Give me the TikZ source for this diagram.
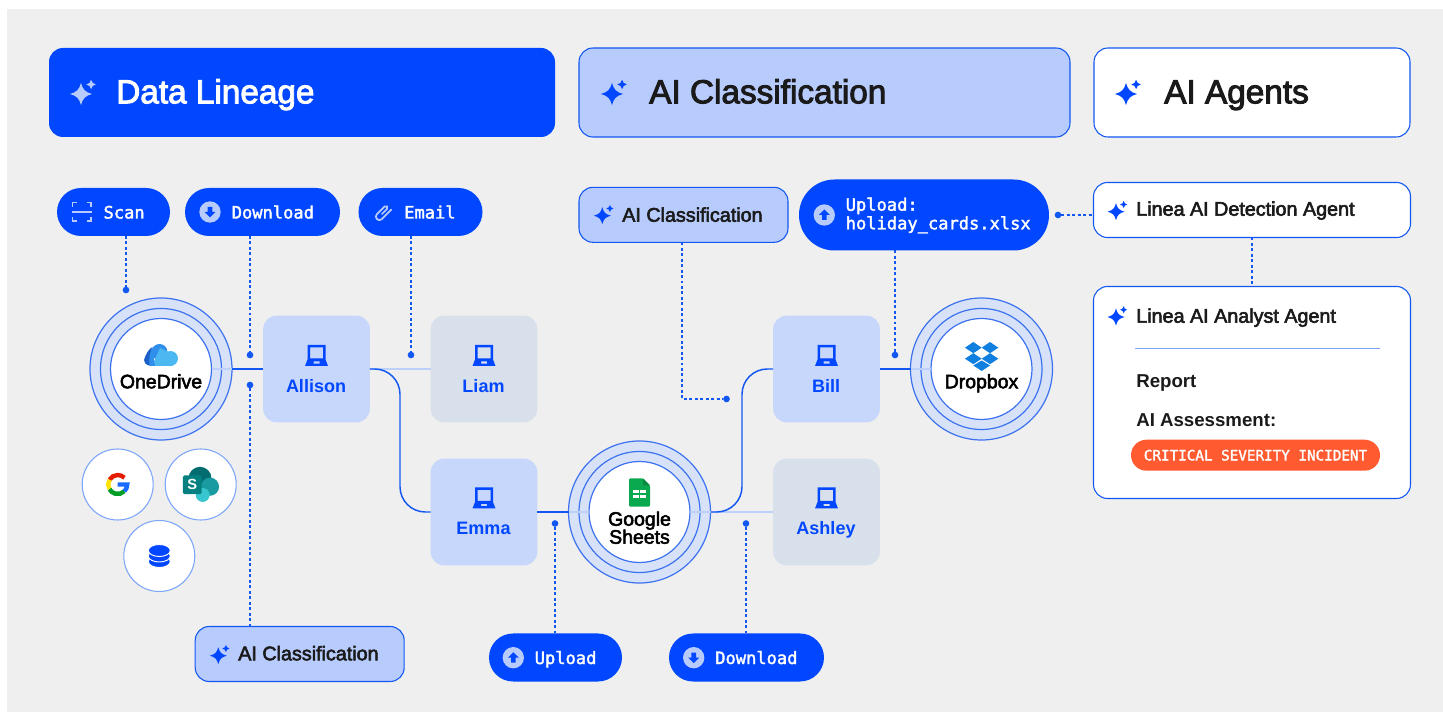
\documentclass[tikz,border=0pt]{standalone}
\usepackage{fontspec}
\setmainfont{Liberation Sans}
\setmonofont[FakeBold=2]{DejaVu Sans Mono}
\newfontfamily\medfont[FakeBold=2.8]{Liberation Sans}
\definecolor{pagegray}{HTML}{EFEFEF}
\definecolor{pillblue}{HTML}{0047FF}
\definecolor{softblue}{HTML}{B8CBFD}
\definecolor{boxblue}{HTML}{C7D7FC}
\definecolor{boxgray}{HTML}{D8E0EC}
\definecolor{ringfill}{HTML}{D7E2F8}
\definecolor{ringline}{HTML}{3C72F0}
\definecolor{flowblue}{HTML}{1257F2}
\definecolor{flowlight}{HTML}{BDD0FB}
\definecolor{edgeblue}{HTML}{7DA6FB}
\definecolor{inkdark}{HTML}{1A1A1A}
\definecolor{alertred}{HTML}{FF5A30}
\definecolor{teala}{HTML}{036C70}
\definecolor{tealb}{HTML}{1A9BA1}
\definecolor{tealc}{HTML}{37C6D0}
\definecolor{tealbox}{HTML}{058080}
\definecolor{sheetgreen}{HTML}{0AA84F}
\definecolor{sheetfold}{HTML}{078A3F}
\definecolor{dropblue}{HTML}{0F7FE0}
\definecolor{clouddark}{HTML}{1C5FC8}
\definecolor{cloudmid}{HTML}{2F8FEA}
\definecolor{cloudlight}{HTML}{4CB8F2}
\newcommand{\starpath}{(0,-10) .. controls (1.8,-3.6) and (3.6,-1.8) .. (10,0) .. controls (3.6,1.8) and (1.8,3.6) .. (0,10) .. controls (-1.8,3.6) and (-3.6,1.8) .. (-10,0) .. controls (-3.6,-1.8) and (-1.8,-3.6) .. (0,-10) -- cycle}
\tikzset{
	panel/.style n args={3}{
		rectangle, rounded corners=10.5pt, inner sep=0pt, outer sep=0pt,
		minimum width=#1*0.75pt, minimum height=#2*0.75pt, fill=#3},
	pill/.style 2 args={
		rectangle, rounded corners=#2*0.375pt, inner sep=0pt, outer sep=0pt,
		minimum width=#1*0.75pt, minimum height=#2*0.75pt, fill=pillblue},
	tile/.style={
		rectangle, rounded corners=10pt, inner sep=0pt, outer sep=0pt,
		minimum width=80pt, minimum height=80pt, fill=#1},
	hubring/.style={
		circle, inner sep=0pt, outer sep=0pt, minimum size=#1*0.75pt,
		draw=ringline, line width=0.9pt, fill=ringfill},
	hubcore/.style={
		circle, inner sep=0pt, outer sep=0pt, minimum size=101*0.75pt,
		draw=ringline, line width=0.9pt, fill=white},
	appdisc/.style={
		circle, inner sep=0pt, outer sep=0pt, minimum size=71*0.75pt,
		draw=edgeblue, line width=0.8pt, fill=white},
	blip/.style={
		circle, inner sep=0pt, outer sep=0pt, minimum size=5pt, fill=flowblue},
	flow/.style={draw=flowblue, line width=1.1pt, rounded corners=19pt},
	flowfaint/.style={draw=flowlight, line width=1.1pt},
	probe/.style={draw=flowblue, line width=1.2pt, dash pattern=on 2.2pt off 1.9pt},
	headtext/.style={anchor=base west, inner sep=0pt, font=\medfont\fontsize{25}{30}\selectfont},
	chiptext/.style={anchor=base west, inner sep=0pt, text=inkdark, font=\medfont\fontsize{14.8}{18}\selectfont},
	monotext/.style={anchor=base west, inner sep=0pt, text=white, font=\ttfamily\fontsize{12.8}{14}\selectfont},
	tiletext/.style={anchor=base, inner sep=0pt, text=pillblue, font=\bfseries\fontsize{13.5}{16}\selectfont},
	hubtext/.style={anchor=base, inner sep=0pt, text=black, font=\medfont\fontsize{14.6}{16}\selectfont},
	reporttext/.style={anchor=base west, inner sep=0pt, text=inkdark, font=\bfseries\fontsize{14}{16}\selectfont},
	pics/sparkle/.style={code={
		\fill[#1] \starpath;
		\fill[#1, shift={(9,8.5)}, scale=0.42] \starpath;
	}},
	pics/laptop/.style={code={
		\fill[pillblue, even odd rule] (-9,10.5) -- (9,10.5) -- (9,-4) -- (11.5,-10.5) -- (-11.5,-10.5) -- (-9,-4) -- cycle (-6.5,8) rectangle (6.5,-3) (-3,-6) rectangle (3,-8.2);
	}},
	pics/arrowdisc/.style={code={
		\fill[softblue] (0,0) circle (8pt);
		\fill[pillblue, yscale=#1] (0,5.5) -- (5.5,0) -- (2.3,0) -- (2.3,-5) -- (-2.3,-5) -- (-2.3,0) -- (-5.5,0) -- cycle;
	}}
}
\begin{document}
\begin{tikzpicture}[x=0.75pt,y=0.75pt,yscale=-1,xscale=1]
\useasboundingbox (0,0) rectangle (1443,712);
\fill[pagegray] (7,9) rectangle (1443,712);

%headers
\node[panel={506}{89}{pillblue}] (lineagehead) at (302,92.5) {};
\node[panel={491}{89}{softblue}, draw=flowblue, line width=0.8pt] (classhead) at (824.5,92.5) {};
\node[panel={316}{89}{white}, draw=flowblue, line width=0.8pt] (agenthead) at (1252,92.5) {};
\pic[scale=1.12] at (81,94) {sparkle=softblue};
\pic[scale=1.12] at (612,94) {sparkle=pillblue};
\pic[scale=1.12] at (1126,94) {sparkle=pillblue};
\node[headtext, text=white] (lineagetext) at (116,103.3) {Data Lineage};
\node[headtext, text=inkdark] (classtext) at (649,103.3) {AI Classification};
\node[headtext, text=inkdark] (agenttext) at (1164,103.3) {AI Agents};

%hubs
\node[hubring=142] (onedriveouter) at (161,369) {};
\node[hubring=121] (onedrivemid) at (161,369) {};
\node[hubring=142] (sheetsouter) at (639.5,512) {};
\node[hubring=121] (sheetsmid) at (639.5,512) {};
\node[hubring=142] (dropboxouter) at (981.5,369) {};
\node[hubring=121] (dropboxmid) at (981.5,369) {};

%tiles
\node[tile=boxblue] (allison) at (316.5,369) {};
\node[tile=boxgray] (liam) at (484,369) {};
\node[tile=boxblue] (emma) at (484,512) {};
\node[tile=boxblue] (bill) at (826.5,369) {};
\node[tile=boxgray] (ashley) at (826.5,512) {};

\coordinate (allisonbend) at (400,440);
\coordinate (sheetsbend) at (742,440);

%connectors, faint part runs inside the rings
\draw[flowfaint] (allison.east) -- (liam.west);
\draw[flowfaint] (onedrivemid.east) -- (onedriveouter.east);
\draw[flow] (onedriveouter.east) -- (allison.west);
\draw[flow] (allison.east) -| (allisonbend) |- (emma.west);
\draw[flow] (emma.east) -- (sheetsouter.west);
\draw[flowfaint] (sheetsouter.west) -- (sheetsmid.west);
\draw[flowfaint] (sheetsmid.east) -- (sheetsouter.east);
\draw[flowfaint] (sheetsouter.east) -- (ashley.west);
\draw[flow] (sheetsouter.east) -| (sheetsbend) |- (bill.west);
\draw[flow] (bill.east) -- (dropboxouter.west);
\draw[flowfaint] (dropboxouter.west) -- (dropboxmid.west);

\node[hubcore] (onedrive) at (161,369) {};
\node[hubcore] (sheets) at (639.5,512) {};
\node[hubcore] (dropbox) at (981.5,369) {};
\draw[flowfaint] (onedrive.east) -- (onedrivemid.east);
\draw[flowfaint] (sheets.west) -- (sheetsmid.west);
\draw[flowfaint] (sheets.east) -- (sheetsmid.east);
\draw[flowfaint] (dropbox.west) -- (dropboxmid.west);

\pic at (316.5,355.5) {laptop};
\pic at (484,355.5) {laptop};
\pic at (484,498) {laptop};
\pic at (826.5,355.5) {laptop};
\pic at (826.5,498) {laptop};
\node[tiletext] (allisontext) at (316,392.3) {Allison};
\node[tiletext] (liamtext) at (483.5,392.3) {Liam};
\node[tiletext] (emmatext) at (483.5,534.3) {Emma};
\node[tiletext] (billtext) at (826,392.3) {Bill};
\node[tiletext] (ashleytext) at (826,534.3) {Ashley};

\node[hubtext] (onedrivetext) at (161,388.3) {OneDrive};
\node[hubtext] (googletext) at (639.5,525.7) {Google};
\node[hubtext] (sheetstext) at (639.5,543.7) {Sheets};
\node[hubtext] (dropboxtext) at (981.5,388.3) {Dropbox};

%onedrive cloud
\fill[cloudmid] (159.5,352) circle (6pt);
\fill[cloudlight] (170.5,358.5) circle (5.6pt);
\fill[cloudlight] (152,366) -- (172,366) -- (172,354) -- (160,348) -- cycle;
\fill[cloudmid] (146,360) .. controls (149,352) and (153,346) .. (159,344) .. controls (154,352) and (153,358) .. (155,366) -- (150,366) .. controls (147,365) and (145.5,363) .. (146,360) -- cycle;
\fill[clouddark] (144,360) .. controls (146,353) and (149,349) .. (152.5,347) .. controls (150,352) and (148.5,358) .. (149.5,365.5) .. controls (146,365) and (144,363) .. (144,360) -- cycle;

%sheets icon
\fill[sheetgreen, rounded corners=1pt] (629,478.3) -- (643,478.3) -- (650,485.3) -- (650,506.7) -- (629,506.7) -- cycle;
\fill[sheetfold] (643,478.3) -- (650,485.3) -- (643,485.3) -- cycle;
\fill[white] (633.3,490) rectangle (646,498);
\draw[sheetgreen, line width=0.8pt] (639.6,490) -- (639.6,498) (633.3,494) -- (646,494);

%dropbox icon
\fill[dropblue] (973.3,342) -- (981.7,347.7) -- (973.3,353.2) -- (965,347.7) -- cycle;
\fill[dropblue] (990,342) -- (998.3,347.7) -- (990,353.2) -- (981.7,347.7) -- cycle;
\fill[dropblue] (973.3,353.2) -- (981.7,358.7) -- (973.3,364.2) -- (965,358.7) -- cycle;
\fill[dropblue] (990,353.2) -- (998.3,358.7) -- (990,364.2) -- (981.7,358.7) -- cycle;
\fill[dropblue] (973.3,365.5) -- (981.7,360.5) -- (990,365.5) -- (981.7,371) -- cycle;

%app discs
\node[appdisc] (google) at (117.7,484.5) {};
\node[appdisc] (sharepoint) at (200.7,484.5) {};
\node[appdisc] (database) at (159.3,556) {};
\begin{scope}[shift={(117.7,484.5)}, line width=3.3pt]
\draw[red!75!orange!90!black] (210:9.5) arc[start angle=210, end angle=315, radius=9.5];
\draw[yellow!85!orange] (150:9.5) arc[start angle=150, end angle=210, radius=9.5];
\draw[green!55!black!85!cyan] (45:9.5) arc[start angle=45, end angle=150, radius=9.5];
\draw[blue!65!cyan!90!white] (0,0) -- (9.5,0) arc[start angle=0, end angle=45, radius=9.5];
\end{scope}
\fill[teala] (200,478.3) circle (8.6pt);
\fill[tealb] (210,486.7) circle (6.8pt);
\fill[tealc] (202.7,495) circle (5.2pt);
\node[rectangle, rounded corners=1pt, inner sep=0pt, minimum size=14pt, fill=tealbox, text=white, font=\bfseries\fontsize{11}{12}\selectfont] (sharepointbox) at (192.3,484.8) {S};
\filldraw[fill=pillblue, draw=white, line width=0.7pt] (159.3,561.5) ellipse [x radius=11, y radius=6];
\filldraw[fill=pillblue, draw=white, line width=0.7pt] (159.3,556) ellipse [x radius=11, y radius=6];
\filldraw[fill=pillblue, draw=white, line width=0.7pt] (159.3,550.5) ellipse [x radius=11, y radius=6];

%action pills
\node[pill={113}{48}] (scan) at (113.5,212) {};
\node[pill={155}{48}] (download) at (262.5,212) {};
\node[pill={124}{48}] (email) at (420.5,212) {};
\node[pill={133}{48}] (upload) at (555.5,657.5) {};
\node[pill={155}{48}] (downloadright) at (746.5,657.5) {};
\node[pill={250}{71}] (uploadcards) at (924,215) {};
\draw[softblue, line width=1.3pt] (72.5,207) -- (72.5,202.5) -- (77,202.5) (86.5,202.5) -- (91,202.5) -- (91,207) (72.5,217) -- (72.5,221) -- (77,221) (86.5,221) -- (91,221) -- (91,217);
\draw[softblue, line width=1.8pt] (72,212) -- (91.5,212);
\pic at (210,212) {arrowdisc=-1};
\draw[softblue, line width=1.3pt, line cap=round, rotate around={-45:(383.5,212.5)}] (381.5,212.5) -- (388.5,212.5) to[out=0,in=0,looseness=1.6] (388.5,209) -- (377.5,209) to[out=180,in=180,looseness=1.6] (377.5,216) -- (391,216);
\pic at (513.3,657.7) {arrowdisc=1};
\pic at (693.7,657.7) {arrowdisc=-1};
\pic at (824.3,215) {arrowdisc=1};
\node[monotext] (scantext) at (103.3,218.5) {Scan};
\node[monotext] (downloadtext) at (231.5,218.5) {Download};
\node[monotext] (emailtext) at (404,218.5) {Email};
\node[monotext] (uploadtext) at (534.5,664) {Upload};
\node[monotext] (downloadrighttext) at (715,664) {Download};
\node[monotext] (uploadcardstext) at (845.5,210.7) {Upload:};
\node[monotext] (cardsnametext) at (845.5,229.3) {holiday\_cards.xlsx};

%classification and agent chips
\node[panel={209}{55}{softblue}, draw=flowblue, line width=0.8pt] (classtop) at (683.5,214.8) {};
\node[panel={209}{55}{softblue}, draw=flowblue, line width=0.8pt] (classbottom) at (299.7,654) {};
\node[panel={317}{55}{white}, draw=flowblue, line width=0.8pt] (detection) at (1252,210) {};
\node[panel={317}{212}{white}, draw=flowblue, line width=0.8pt] (analyst) at (1252,392.5) {};
\pic[scale=0.85] at (602.3,215.7) {sparkle=pillblue};
\pic[scale=0.85] at (218.3,655.7) {sparkle=pillblue};
\pic[scale=0.85] at (1116,211.7) {sparkle=pillblue};
\pic[scale=0.85] at (1116,317) {sparkle=pillblue};
\node[chiptext] (classtoptext) at (622,221.7) {AI Classification};
\node[chiptext] (classbottomtext) at (238,660.3) {AI Classification};
\node[chiptext] (detectiontext) at (1136,215.7) {Linea AI Detection Agent};
\node[chiptext] (analysttext) at (1136,322.7) {Linea AI Analyst Agent};
\coordinate (rulestart) at (1135,348.3);
\coordinate (ruleend) at (1380,348.3);
\draw[edgeblue, line width=0.8pt] (rulestart) -- (ruleend);
\node[reporttext] (reporttext) at (1136,387.7) {Report};
\node[reporttext] (assessmenttext) at (1136,426.7) {AI Assessment:};
\node[pill={249}{31}, fill=alertred, text=white, font=\ttfamily\fontsize{10.7}{12}\selectfont] (severity) at (1255.5,455.2) {CRITICAL SEVERITY INCIDENT};

%dotted probes
\node[blip] (scanblip) at (126,290) {};
\node[blip] (downloadblip) at (250,355) {};
\node[blip] (emailblip) at (411,355) {};
\node[blip] (classblip) at (250,385) {};
\node[blip] (uploadblip) at (555,523.5) {};
\node[blip] (downloadrightblip) at (746,523.5) {};
\node[blip] (classtopblip) at (726.5,399) {};
\node[blip] (cardsblip) at (895,355) {};
\node[blip] (detectionblip) at (1058,215) {};
\coordinate (classcorner) at (682,399);
\draw[probe] (scan.south -| scanblip) -- (scanblip);
\draw[probe] (download.south -| downloadblip) -- (downloadblip);
\draw[probe] (email.south -| emailblip) -- (emailblip);
\draw[probe] (classbottom.north -| classblip) -- (classblip);
\draw[probe] (upload.north -| uploadblip) -- (uploadblip);
\draw[probe] (downloadright.north -| downloadrightblip) -- (downloadrightblip);
\draw[probe] (classtop.south -| classcorner) -- (classcorner) -- (classtopblip);
\draw[probe] (uploadcards.south -| cardsblip) -- (cardsblip);
\draw[probe] (detectionblip) -- (detection.west |- detectionblip);
\draw[probe] (detection.south) -- (analyst.north);
\end{tikzpicture}
\end{document}
